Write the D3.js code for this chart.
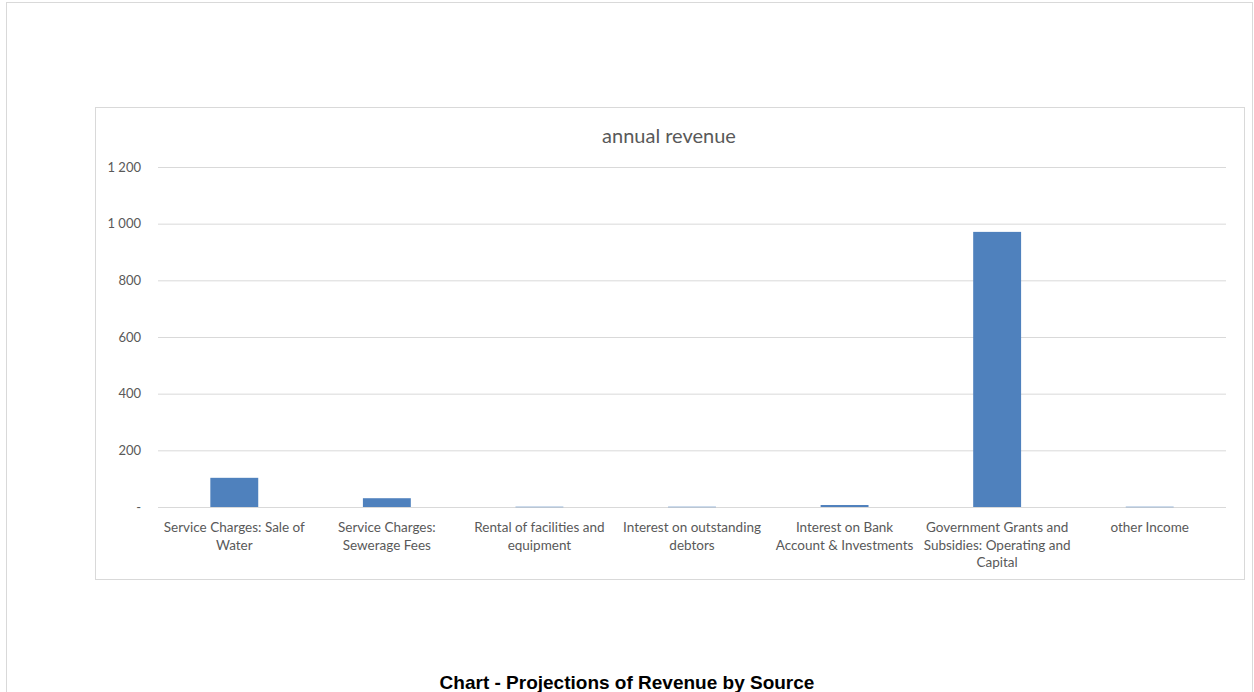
<!DOCTYPE html>
<html lang="en">
<head>
    <meta charset="UTF-8">
    <title>annual revenue</title>
    <script src="https://d3js.org/d3.v7.min.js"></script>
    <style>
        body { margin: 0; background: #fff; }
    </style>
</head>
<body>
    <svg width="1254" height="692"></svg>

    <script>

        // Chart data
        const categories = [
            ["Service Charges: Sale of", "Water"],
            ["Service Charges:", "Sewerage Fees"],
            ["Rental of facilities and", "equipment"],
            ["Interest on outstanding", "debtors"],
            ["Interest on Bank", "Account & Investments"],
            ["Government Grants and", "Subsidies: Operating and", "Capital"],
            ["other Income"]
        ];
        const revenue = [103, 31, 1, 1, 7, 971, 1];
        const yTicks = [0, 200, 400, 600, 800, 1000, 1200];
        const yTickLabels = ["-", "200", "400", "600", "800", "1 000", "1 200"];

        const svg = d3.select("svg");
        const font = "Lato, 'Open Sans', sans-serif";

        // outer page border
        svg.append("rect")
           .attr("x", 6.5).attr("y", 2.5)
           .attr("width", 1246).attr("height", 700)
           .attr("fill", "none")
           .attr("stroke", "#d9d9d9");

        // chart area border
        svg.append("rect")
           .attr("x", 95.5).attr("y", 107.5)
           .attr("width", 1149).attr("height", 472)
           .attr("fill", "#fff")
           .attr("stroke", "#d9d9d9");

        const margin = { top: 167, left: 158 },
              width = 1226 - 158,
              height = 507 - 167;

        const g = svg.append("g")
                     .attr("transform", `translate(${margin.left},${margin.top})`);

        const x = d3.scaleBand()
                    .domain(d3.range(categories.length))
                    .range([0, width])
                    .paddingInner(0.686)
                    .paddingOuter(0.343);

        const y = d3.scaleLinear()
                    .domain([0, 1200])
                    .range([height, 0]);

        // gridlines + y labels
        const yAxis = g.append("g")
           .call(d3.axisLeft(y).tickValues(yTicks)
                   .tickSize(-width)
                   .tickPadding(17)
                   .tickFormat((d, i) => yTickLabels[i]));
        yAxis.select(".domain").remove();
        yAxis.selectAll("line").attr("stroke", "#d9d9d9").attr("stroke-width", 1);
        yAxis.selectAll("text")
             .attr("fill", "#595959")
             .style("font-family", font)
             .style("font-size", "13px");

        // bars
        g.selectAll("rect.bar")
         .data(revenue)
         .enter()
         .append("rect")
         .attr("class", "bar")
         .attr("x", (d, i) => x(i))
         .attr("width", x.bandwidth())
         .attr("y", d => y(d))
         .attr("height", d => Math.max(0.5, height - y(d)))
         .attr("fill", "#4f81bd");

        // category labels
        const catG = g.append("g").attr("transform", `translate(0,${height})`);
        catG.selectAll("text")
            .data(categories)
            .enter()
            .append("text")
            .attr("x", (d, i) => x(i) + x.bandwidth() / 2)
            .attr("y", 25)
            .attr("text-anchor", "middle")
            .attr("fill", "#595959")
            .style("font-family", font)
            .style("font-size", "13.5px")
            .each(function (d) {
                d3.select(this).selectAll("tspan")
                  .data(d)
                  .enter()
                  .append("tspan")
                  .attr("x", d3.select(this).attr("x"))
                  .attr("dy", (t, j) => j === 0 ? 0 : 17.5)
                  .text(t => t);
            });

        // chart title
        svg.append("text")
           .attr("x", 669)
           .attr("y", 143)
           .attr("text-anchor", "middle")
           .attr("fill", "#595959")
           .style("font-family", font)
           .style("font-size", "20px")
           .text("annual revenue");

        // caption
        svg.append("text")
           .attr("x", 627)
           .attr("y", 689)
           .attr("text-anchor", "middle")
           .attr("fill", "#000")
           .style("font-family", "'Liberation Sans', Arial, sans-serif")
           .style("font-size", "19px")
           .style("font-weight", "bold")
           .text("Chart - Projections of Revenue by Source");

    </script>
</body>
</html>
